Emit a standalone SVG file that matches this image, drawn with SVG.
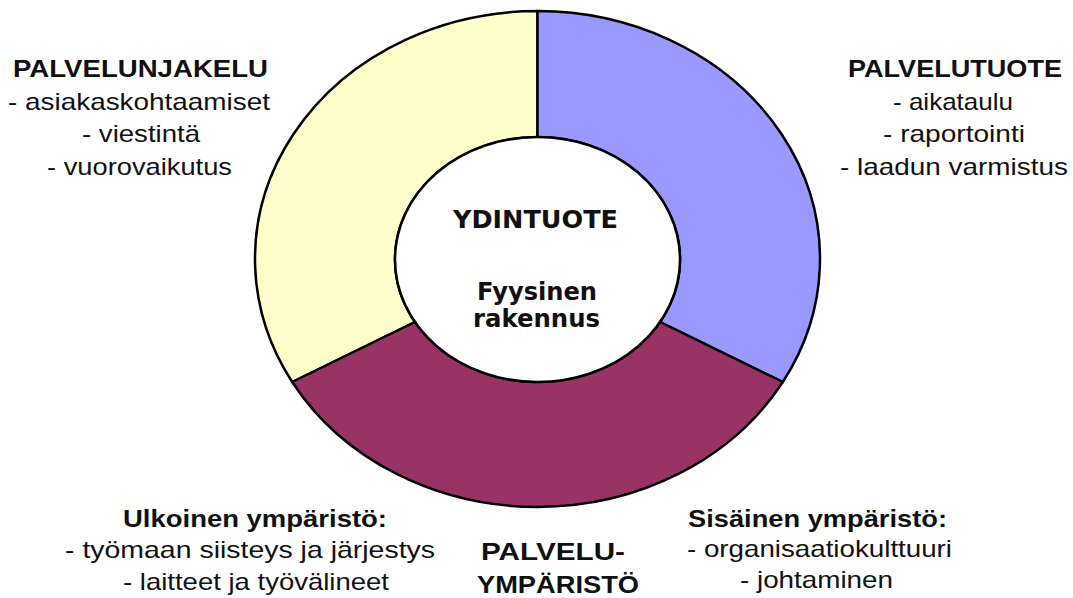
<svg xmlns="http://www.w3.org/2000/svg" width="1073" height="598" viewBox="0 0 1073 598">
  <style>
    .seg { stroke: #000; stroke-width: 2.5; stroke-linejoin: round; }
    .t { font-family: "Liberation Sans", Arial, sans-serif; font-size: 24px; fill: #111; }
    .b { font-weight: bold; }
    .c { font-family: "DejaVu Sans", Verdana, sans-serif; font-weight: bold; font-size: 24px; fill: #111; }
  </style>
  <rect width="1073" height="598" fill="#fff"/>

  <!-- Service distribution: yellow sector, upper left -->
  <g id="palvelunjakelu">
    <path class="seg" fill="#FFFFCC" d="M 537.5 11 A 282.5 248 0 0 0 292.2 382 L 414.9 322 A 142.5 122.5 0 0 1 537.5 137 Z"/>
    <text class="t b" x="13" y="77" textLength="255" lengthAdjust="spacingAndGlyphs">PALVELUNJAKELU</text>
    <text class="t" x="8" y="110" textLength="262" lengthAdjust="spacingAndGlyphs">- asiakaskohtaamiset</text>
    <text class="t" x="82" y="142" textLength="118" lengthAdjust="spacingAndGlyphs">- viestintä</text>
    <text class="t" x="47" y="175" textLength="185" lengthAdjust="spacingAndGlyphs">- vuorovaikutus</text>
  </g>

  <!-- Service product: blue sector, upper right -->
  <g id="palvelutuote">
    <path class="seg" fill="#9999FF" d="M 537.5 11 A 282.5 248 0 0 1 782.8 382 L 660.1 322 A 142.5 122.5 0 0 0 537.5 137 Z"/>
    <text class="t b" x="848" y="77" textLength="214" lengthAdjust="spacingAndGlyphs">PALVELUTUOTE</text>
    <text class="t" x="893" y="110" textLength="120" lengthAdjust="spacingAndGlyphs">- aikataulu</text>
    <text class="t" x="883" y="142" textLength="142" lengthAdjust="spacingAndGlyphs">- raportointi</text>
    <text class="t" x="840" y="175" textLength="228" lengthAdjust="spacingAndGlyphs">- laadun varmistus</text>
  </g>

  <!-- Service environment: maroon sector, bottom -->
  <g id="palveluymparisto">
    <path class="seg" fill="#993366" d="M 292.2 382 A 282.5 248 0 0 0 782.8 382 L 660.1 322 A 142.5 122.5 0 0 1 414.9 322 Z"/>
    <text class="t b" x="481" y="560" textLength="144" lengthAdjust="spacingAndGlyphs">PALVELU-</text>
    <text class="t b" x="477" y="593" textLength="162" lengthAdjust="spacingAndGlyphs">YMPÄRISTÖ</text>
    <text class="t b" x="123" y="527" textLength="264" lengthAdjust="spacingAndGlyphs">Ulkoinen ympäristö:</text>
    <text class="t" x="65" y="558" textLength="370" lengthAdjust="spacingAndGlyphs">- työmaan siisteys ja järjestys</text>
    <text class="t" x="123" y="590" textLength="266" lengthAdjust="spacingAndGlyphs">- laitteet ja työvälineet</text>
    <text class="t b" x="688" y="527" textLength="259" lengthAdjust="spacingAndGlyphs">Sisäinen ympäristö:</text>
    <text class="t" x="687" y="557" textLength="265" lengthAdjust="spacingAndGlyphs">- organisaatiokulttuuri</text>
    <text class="t" x="740" y="588" textLength="153" lengthAdjust="spacingAndGlyphs">- johtaminen</text>
  </g>

  <!-- Core product: white centre -->
  <g id="ydintuote">
    <ellipse class="seg" fill="#fff" cx="537.5" cy="259.5" rx="142.5" ry="122.5"/>
    <text class="c" x="453" y="228" textLength="165" lengthAdjust="spacingAndGlyphs">YDINTUOTE</text>
    <text class="c" x="477" y="300" textLength="120" lengthAdjust="spacingAndGlyphs">Fyysinen</text>
    <text class="c" x="473" y="327" textLength="127" lengthAdjust="spacingAndGlyphs">rakennus</text>
  </g>
</svg>
